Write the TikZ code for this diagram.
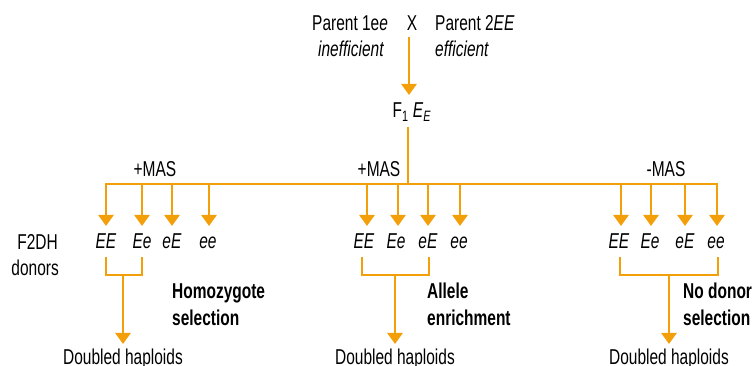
\documentclass[tikz,border=0pt]{standalone}
\usepackage{fontspec}
\setmainfont{Liberation Sans}[FakeStretch=0.72]
\newfontface\condbold{Liberation Sans Bold}[FakeStretch=0.72]
\usetikzlibrary{arrows.meta}
\definecolor{orangeline}{RGB}{242,159,10}
\begin{document}
\begin{tikzpicture}[x=1pt,y=-1pt,
  txt/.style={inner sep=0pt,font=\fontsize{21.5}{24}\selectfont},
  bold/.style={inner sep=0pt,font=\condbold\fontsize{21.5}{24}\selectfont},
  line/.style={draw=orangeline,line width=2.5pt},
  arr/.style={line,-{Triangle[width=15pt,length=11pt]}}]
\useasboundingbox (0,0) rectangle (756,366);
% top
\node[txt,anchor=base west] (p1) at (312,31) {Parent 1e\textit{e}};
\node[txt,anchor=base] (X) at (412,31) {X};
\node[txt,anchor=base west] (p2) at (435,31) {Parent 2\textit{EE}};
\node[txt,anchor=base west] (ineff) at (318,57) {\textit{inefficient}};
\node[txt,anchor=base west] (eff) at (435,57) {\textit{efficient}};
\node[txt,anchor=base] (F1) at (412,118) {F\textsubscript{1} \textit{E}\textsubscript{\textit{E}}};
\coordinate (xs) at (409,37);
\coordinate (xt) at (409,95);
\draw[arr] (xs) -- (xt);
% main split
\coordinate (fb) at (408,127);
\coordinate (fj) at (408,184);
\coordinate (L) at (106,184);
\coordinate (R) at (717,184);
\draw[line] (fb) -- (fj);
\draw[line,line join=miter] (L) -- (R);
\node[txt,anchor=base] (mas1) at (155,177) {+MAS};
\node[txt,anchor=base] (mas2) at (379,177) {+MAS};
\node[txt,anchor=base] (mas3) at (666,177) {-MAS};
% labels left
\node[txt,anchor=base east] (f2dh) at (58,250) {F2DH};
\node[txt,anchor=base east] (donors) at (59,276) {donors};
% genotypes
\foreach \n/\x/\t in {a1/106/EE,a2/142/Ee,a3/172/eE,a4/208/ee,
                      b1/364/EE,b2/396/Ee,b3/428/eE,b4/459/ee,
                      c1/619/EE,c2/650/Ee,c3/685/eE,c4/716/ee}{
  \node[txt,anchor=base] (\n) at (\x,249) {\textit{\t}};
}
\foreach \x in {106,142,172,209,367,398,428,460,621,651,685,717}{
  \coordinate (s\x) at (\x,183);
  \coordinate (t\x) at (\x,226);
  \draw[arr] (s\x) -- (t\x);
}
% brackets
\foreach \a/\b/\c/\d in {106/142/123/a,362/429/395/b,620/718/669/c}{
  \coordinate (\d u) at (\a,257);
  \coordinate (\d v) at (\b,257);
  \coordinate (\d m) at (\c,275);
  \coordinate (\d t) at (\c,344);
  \draw[line] (\d u) |- (\d m) -| (\d v);
  \draw[arr] (\d m) -- (\d t);
}
% selection labels
\node[bold,anchor=base west] (h1) at (172,299) {Homozygote};
\node[bold,anchor=base west] (h2) at (172,326) {selection};
\node[bold,anchor=base west] (e1) at (427,299) {Allele};
\node[bold,anchor=base west] (e2) at (427,326) {enrichment};
\node[bold,anchor=base west] (n1) at (683,299) {No donor};
\node[bold,anchor=base west] (n2) at (683,326) {selection};
% outputs
\node[txt,anchor=base] (dh1) at (123,365) {Doubled haploids};
\node[txt,anchor=base] (dh2) at (395,365) {Doubled haploids};
\node[txt,anchor=base] (dh3) at (669,365) {Doubled haploids};
\end{tikzpicture}
\end{document}
